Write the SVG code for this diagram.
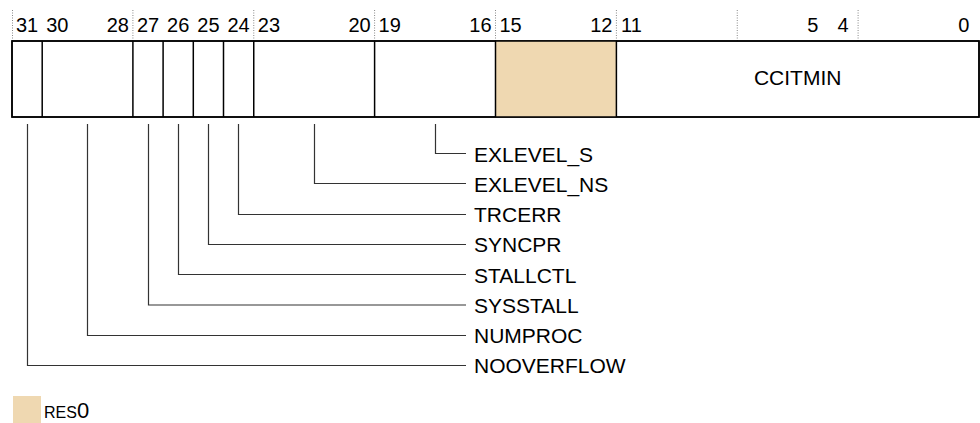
<svg xmlns="http://www.w3.org/2000/svg" width="980" height="423" viewBox="0 0 980 423">
<style>
  text { font-family: "Liberation Sans", Arial, sans-serif; fill: #000; }
  .bit { font-size: 20px; text-anchor: middle; }
  .lbl { font-size: 21px; }
  .field { fill: #fff; stroke: #000; stroke-width: 1.5; }
  .res { fill: #EFD8B1; }
  .div { stroke: #000; stroke-width: 1.5; }
  .dot { stroke: #888; stroke-width: 1; stroke-dasharray: 1 1.5; }
  .conn { fill: none; stroke: #333; stroke-width: 1.2; }
</style>
<rect width="980" height="423" fill="#fff"/>
<g id="bit-numbers">
  <line class="dot" x1="12.5" y1="10" x2="12.5" y2="41"/>
  <line class="dot" x1="132.9" y1="10" x2="132.9" y2="41"/>
  <line class="dot" x1="253.75" y1="10" x2="253.75" y2="41"/>
  <line class="dot" x1="374.6" y1="10" x2="374.6" y2="41"/>
  <line class="dot" x1="495.5" y1="10" x2="495.5" y2="41"/>
  <line class="dot" x1="616.4" y1="10" x2="616.4" y2="41"/>
  <line class="dot" x1="737.25" y1="10" x2="737.25" y2="41"/>
  <line class="dot" x1="858.1" y1="10" x2="858.1" y2="41"/>
  <text class="bit" x="27.1" y="32">31</text>
  <text class="bit" x="57.3" y="32">30</text>
  <text class="bit" x="117.8" y="32">28</text>
  <text class="bit" x="148" y="32">27</text>
  <text class="bit" x="178.2" y="32">26</text>
  <text class="bit" x="208.4" y="32">25</text>
  <text class="bit" x="238.6" y="32">24</text>
  <text class="bit" x="268.9" y="32">23</text>
  <text class="bit" x="359.5" y="32">20</text>
  <text class="bit" x="389.7" y="32">19</text>
  <text class="bit" x="480.4" y="32">16</text>
  <text class="bit" x="510.6" y="32">15</text>
  <text class="bit" x="601.3" y="32">12</text>
  <text class="bit" x="631.5" y="32">11</text>
  <text class="bit" x="812.8" y="32">5</text>
  <text class="bit" x="843" y="32">4</text>
  <text class="bit" x="963.9" y="32">0</text>
</g>
<g id="register">
  <rect class="field" x="12" y="41" width="967" height="76"/>
  <rect class="res" x="495.5" y="41" width="120.9" height="76"/>
  <line class="div" x1="42.2" y1="41" x2="42.2" y2="117"/>
  <line class="div" x1="132.9" y1="41" x2="132.9" y2="117"/>
  <line class="div" x1="163.1" y1="41" x2="163.1" y2="117"/>
  <line class="div" x1="193.3" y1="41" x2="193.3" y2="117"/>
  <line class="div" x1="223.5" y1="41" x2="223.5" y2="117"/>
  <line class="div" x1="253.75" y1="41" x2="253.75" y2="117"/>
  <line class="div" x1="374.6" y1="41" x2="374.6" y2="117"/>
  <line class="div" x1="495.5" y1="41" x2="495.5" y2="117"/>
  <line class="div" x1="616.4" y1="41" x2="616.4" y2="117"/>
  <rect x="12" y="41" width="967" height="76" fill="none" stroke="#000" stroke-width="1.5"/>
  <text class="lbl" x="797.7" y="85" text-anchor="middle">CCITMIN</text>
</g>
<g id="connectors">
  <polyline class="conn" points="435.5,124 435.5,153.5 466,153.5"/>
  <polyline class="conn" points="314.5,124 314.5,183.5 466,183.5"/>
  <polyline class="conn" points="238.5,124 238.5,214.5 466,214.5"/>
  <polyline class="conn" points="208.5,124 208.5,244.5 466,244.5"/>
  <polyline class="conn" points="178.5,124 178.5,274.5 466,274.5"/>
  <polyline class="conn" points="148.5,124 148.5,305 466,305"/>
  <polyline class="conn" points="87.5,124 87.5,335.5 466,335.5"/>
  <polyline class="conn" points="27.5,124 27.5,365.5 466,365.5"/>
</g>
<g id="labels">
  <text class="lbl" x="474" y="161.5">EXLEVEL_S</text>
  <text class="lbl" x="474" y="191.5">EXLEVEL_NS</text>
  <text class="lbl" x="474" y="222">TRCERR</text>
  <text class="lbl" x="474" y="252">SYNCPR</text>
  <text class="lbl" x="474" y="282.5">STALLCTL</text>
  <text class="lbl" x="474" y="312.5">SYSSTALL</text>
  <text class="lbl" x="474" y="343">NUMPROC</text>
  <text class="lbl" x="474" y="373">NOOVERFLOW</text>
</g>
<g id="legend">
  <rect class="res" x="13" y="396" width="28" height="27"/>
  <text x="44" y="417.5" font-size="16">RES<tspan font-size="22">0</tspan></text>
</g>
</svg>
